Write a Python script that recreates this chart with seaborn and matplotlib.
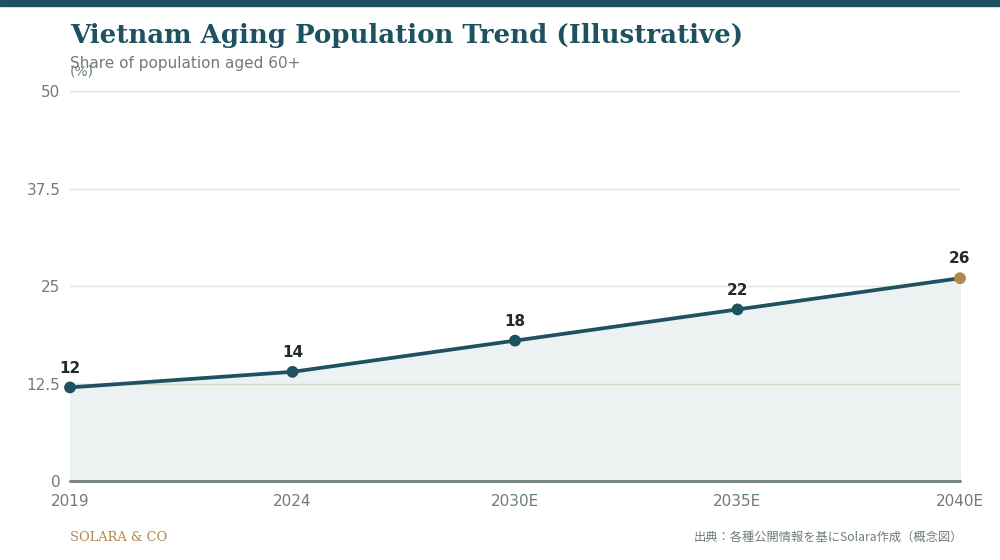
import numpy as np
import pandas as pd
import matplotlib
matplotlib.use("Agg")
import matplotlib.pyplot as plt
import seaborn as sns

# data
years = ["2019", "2024", "2030E", "2035E", "2040E"]
share_60plus = [12, 14, 18, 22, 26]
y_ticks = [0, 12.5, 25, 37.5, 50]
y_tick_labels = ["0", "12.5", "25", "37.5", "50"]

TEAL = "#1e5260"
GOLD = "#b08a4a"
GREY = "#6f7c79"

sns.set_theme(style="white")
plt.rcParams['font.family'] = ['DejaVu Sans', 'Noto Sans CJK JP']

df = pd.DataFrame({"year": years, "share": share_60plus})
df["pos"] = np.arange(len(df))
df["colour"] = [TEAL] * (len(df) - 1) + [GOLD]

fig = plt.figure(figsize=(10, 5.6), dpi=100)
ax = fig.add_axes([0.07, 0.141, 0.89, 0.6965])

# area under line
ax.fill_between(df["pos"], 0, df["share"], color="#ecf1f1", zorder=1)

sns.lineplot(data=df, x="pos", y="share", color=TEAL, linewidth=2.7,
             ax=ax, zorder=3, clip_on=False)
# points, last one highlighted
ax.scatter(df["pos"], df["share"], s=72, c=df["colour"], zorder=4,
           linewidths=0, clip_on=False)

for p, v in zip(df["pos"], df["share"]):
    ax.annotate(f"{v}", (p, v), xytext=(0, 8.5), textcoords="offset points",
                ha="center", va="bottom", fontsize=11, fontweight="bold",
                color="#222a2a", zorder=5, annotation_clip=False)

ax.set_xlim(0, len(df) - 1)
ax.set_ylim(0, 50)
ax.set_xticks(df["pos"])
ax.set_xticklabels(years)
ax.set_yticks(y_ticks)
ax.set_yticklabels(y_tick_labels)
ax.tick_params(axis="both", colors=GREY, labelsize=11, length=0)
ax.tick_params(axis="x", pad=9)
ax.tick_params(axis="y", pad=7)
ax.set_xlabel("")
ax.set_ylabel("")

for t in y_ticks[1:]:
    ax.axhline(t, color="#e6e1d8", linewidth=1, zorder=0)
ax.axhline(12.5, color="#dbd3c4", linewidth=1, zorder=2)
ax.axhline(0, color="#7a8782", linewidth=2.2, zorder=5, clip_on=False)

for s in ax.spines.values():
    s.set_visible(False)

# top band
fig.patches.append(plt.Rectangle((0, 1 - 6 / 560), 1, 6 / 560, transform=fig.transFigure,
                                 color=TEAL, zorder=10))

fig.text(0.07, 0.936, "Vietnam Aging Population Trend (Illustrative)",
         family="DejaVu Serif", fontweight="bold", fontsize=18.7, color=TEAL,
         va="center", ha="left")
fig.text(0.07, 0.887, "Share of population aged 60+", fontsize=11, color=GREY,
         va="center", ha="left")
fig.text(0.07, 0.872, "(%)", fontsize=10, color=GREY, va="center", ha="left")

fig.text(0.07, 0.04, "SOLARA & CO", family="DejaVu Serif", fontsize=9.4,
         color=GOLD, va="center", ha="left")
fig.text(0.963, 0.04, "出典：各種公開情報を基にSolara作成（概念図）",
         family=["Noto Sans CJK JP", "DejaVu Sans"], fontsize=8.8, color=GREY,
         va="center", ha="right")

fig.savefig("out.png", dpi=100, facecolor="white")
